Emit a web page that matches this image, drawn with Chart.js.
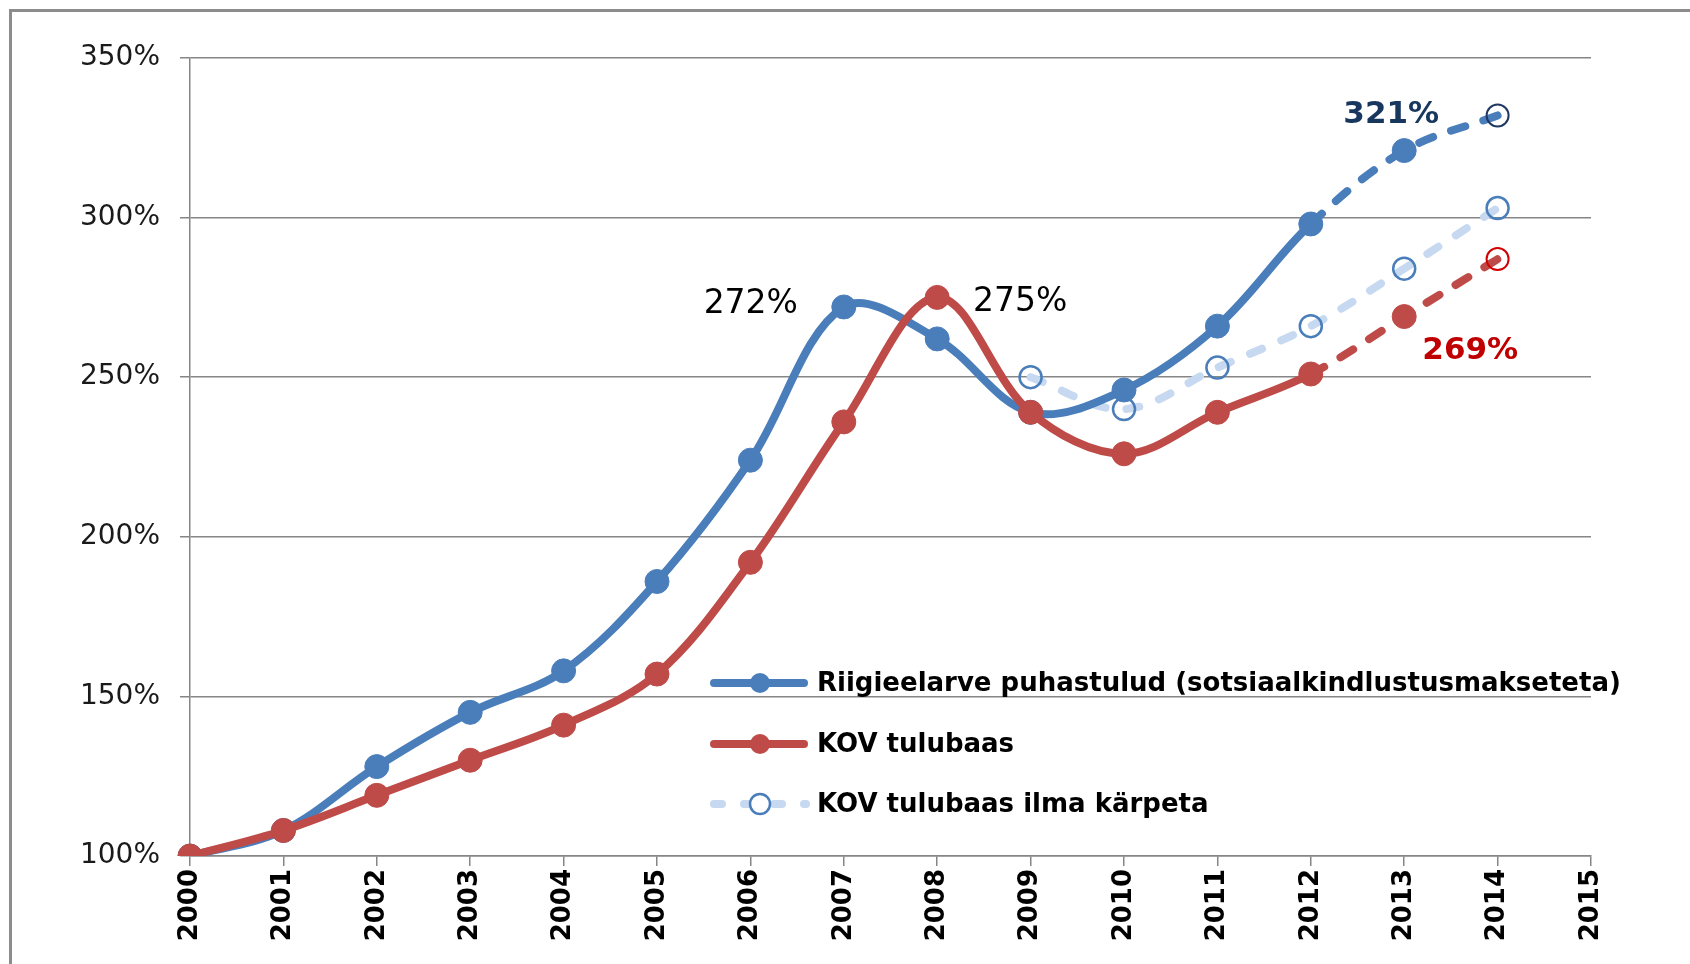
<!DOCTYPE html>
<html>
<head>
<meta charset="utf-8">
<script src="https://cdn.jsdelivr.net/npm/chart.js@4.4.1/dist/chart.umd.min.js"></script>
<style>
  html, body { margin: 0; padding: 0; background: #fff; }
  #wrap { position: relative; width: 1690px; height: 964px; overflow: hidden; }
  #frame { position: absolute; left: 9px; top: 9px; width: 1700px; height: 1000px;
           border-left: 3px solid #8c8c8c; border-top: 3px solid #8c8c8c; }
  canvas { position: absolute; left: 0; top: 0; }
</style>
</head>
<body>
<div id="wrap">
  <div id="frame"></div>
  <canvas id="chart" width="1690" height="964"></canvas>
</div>
<script>
// years on the x axis (2015 is an empty tick)
const years = ['2000','2001','2002','2003','2004','2005','2006','2007','2008','2009','2010','2011','2012','2013','2014','2015'];
// index, 2000 = 100%
const riigieelarve = [100, 108, 128, 145, 158, 186, 224, 272, 262, 239, 246, 266, 298, 321, 332];
const kovTulubaas = [100, 108, 119, 130, 141, 157, 192, 236, 275, 239, 226, 239, 251, 269, 287];
const kovIlmaKarpeta = [null, null, null, null, null, null, null, null, null, 250, 240, 253, 266, 284, 303];
const yTicks = [100, 150, 200, 250, 300, 350];

const seriesNames = [
  'Riigieelarve puhastulud (sotsiaalkindlustusmakseteta)',
  'KOV tulubaas',
  'KOV tulubaas ilma kärpeta'
];

const BLUE = '#4a7ebb';
const RED = '#be4b48';
const PALE = '#c6d9f1';
const CLEAR = 'rgba(255,255,255,0)';

// last point of the two main series is an open circle, dashes start after 2012
function pointFill(values, color) {
  return values.map((v, i) => i === values.length - 1 ? CLEAR : color);
}
const dashFrom2012 = ctx => ctx.p0DataIndex >= 12 ? [15, 19] : undefined;

// value callouts
const callouts = [
  { ds: 0, i: 7, text: '272%', dx: -93, dy: -3, color: '#000', weight: 'normal' },
  { ds: 1, i: 8, text: '275%', dx: 83, dy: 5, color: '#000', weight: 'normal' },
  { ds: 0, i: 13, text: '321%', dx: -13, dy: -36, color: '#17375e', weight: 'bold' },
  { ds: 1, i: 13, text: '269%', dx: 66, dy: 34, color: '#c00000', weight: 'bold' }
];

const calloutPlugin = {
  id: 'callouts',
  afterDatasetsDraw(chart) {
    const ctx = chart.ctx;
    ctx.save();
    ctx.textAlign = 'center';
    ctx.textBaseline = 'middle';
    callouts.forEach(c => {
      const pt = chart.getDatasetMeta(c.ds).data[c.i];
      ctx.font = c.weight + (c.weight === 'bold' ? ' 31px' : ' 33px') + ' "DejaVu Sans"';
      ctx.fillStyle = c.color;
      ctx.fillText(c.text, pt.x + c.dx, pt.y + c.dy);
    });
    ctx.restore();
  }
};

const legendPlugin = {
  id: 'boxLegend',
  afterDraw(chart) {
    const ctx = chart.ctx;
    const area = chart.chartArea;
    const x0 = area.left + 520;
    const rows = [625, 686, 746];
    ctx.save();
    chart.data.datasets.forEach((ds, k) => {
      const y = area.top + rows[k];
      ctx.lineCap = 'round';
      ctx.lineWidth = 8;
      ctx.strokeStyle = ds.borderColor;
      if (k === 2) {
        ctx.setLineDash([8, 22]);
        ctx.beginPath(); ctx.moveTo(x0 + 4, y); ctx.lineTo(x0 + 96, y); ctx.stroke();
        ctx.setLineDash([]);
        ctx.beginPath(); ctx.arc(x0 + 50, y, 10, 0, Math.PI * 2);
        ctx.fillStyle = '#fff'; ctx.fill();
        ctx.lineWidth = 2.5; ctx.strokeStyle = BLUE; ctx.stroke();
      } else {
        ctx.beginPath(); ctx.moveTo(x0 + 4, y); ctx.lineTo(x0 + 94, y); ctx.stroke();
        ctx.beginPath(); ctx.arc(x0 + 50, y, 10, 0, Math.PI * 2);
        ctx.fillStyle = ds.borderColor; ctx.fill();
      }
      ctx.font = 'bold 26px "DejaVu Sans"';
      ctx.fillStyle = '#000';
      ctx.textAlign = 'left';
      ctx.textBaseline = 'middle';
      ctx.fillText(ds.label, x0 + 107, y + 1);
    });
    ctx.restore();
  }
};

new Chart(document.getElementById('chart'), {
  type: 'line',
  data: {
    labels: years,
    datasets: [
      {
        label: seriesNames[0],
        data: riigieelarve,
        order: 2,
        borderColor: BLUE,
        borderWidth: 8,
        borderCapStyle: 'round',
        tension: 0.35,
        segment: { borderDash: dashFrom2012 },
        pointRadius: riigieelarve.map((v, i) => i === 14 ? 11 : 12),
        pointBackgroundColor: pointFill(riigieelarve, BLUE),
        pointBorderColor: riigieelarve.map((v, i) => i === 14 ? '#1f3864' : BLUE),
        pointBorderWidth: riigieelarve.map((v, i) => i === 14 ? 2 : 1)
      },
      {
        label: seriesNames[1],
        data: kovTulubaas,
        order: 1,
        borderColor: RED,
        borderWidth: 8,
        borderCapStyle: 'round',
        tension: 0.35,
        segment: { borderDash: dashFrom2012 },
        pointRadius: kovTulubaas.map((v, i) => i === 14 ? 11 : 12),
        pointBackgroundColor: pointFill(kovTulubaas, RED),
        pointBorderColor: kovTulubaas.map((v, i) => i === 14 ? '#d00000' : RED),
        pointBorderWidth: kovTulubaas.map((v, i) => i === 14 ? 2 : 1)
      },
      {
        label: seriesNames[2],
        data: kovIlmaKarpeta,
        order: 3,
        borderColor: PALE,
        borderWidth: 8,
        borderCapStyle: 'round',
        borderDash: [13, 21],
        tension: 0.35,
        pointRadius: 11,
        pointBackgroundColor: CLEAR,
        pointBorderColor: BLUE,
        pointBorderWidth: 2.5
      }
    ]
  },
  options: {
    responsive: false,
    animation: false,
    devicePixelRatio: 1,
    layout: { padding: { left: 0, top: 58, right: 99, bottom: 0 } },
    plugins: { legend: { display: false }, tooltip: { enabled: false } },
    scales: {
      x: {
        offset: false,
        grid: { drawOnChartArea: false, drawTicks: true, tickLength: 10, color: '#868686', lineWidth: 1.5 },
        border: { color: '#868686', width: 1.5 },
        ticks: {
          autoSkip: false, maxRotation: 90, minRotation: 90, padding: 3,
          color: '#000', font: { family: 'DejaVu Sans', weight: 'bold', size: 26 }
        },
        afterFit: s => { s.height = 108; }
      },
      y: {
        min: 100, max: 350,
        afterBuildTicks: s => { s.ticks = yTicks.map(v => ({ value: v })); },
        grid: { color: '#868686', lineWidth: 1.5, tickLength: 10 },
        border: { color: '#868686', width: 1.5 },
        ticks: {
          padding: 20, color: '#1a1a1a',
          font: { family: 'DejaVu Sans', size: 28 },
          callback: v => v + '%'
        },
        afterFit: s => { s.width = 190; }
      }
    }
  },
  plugins: [calloutPlugin, legendPlugin]
});
</script>
</body>
</html>
